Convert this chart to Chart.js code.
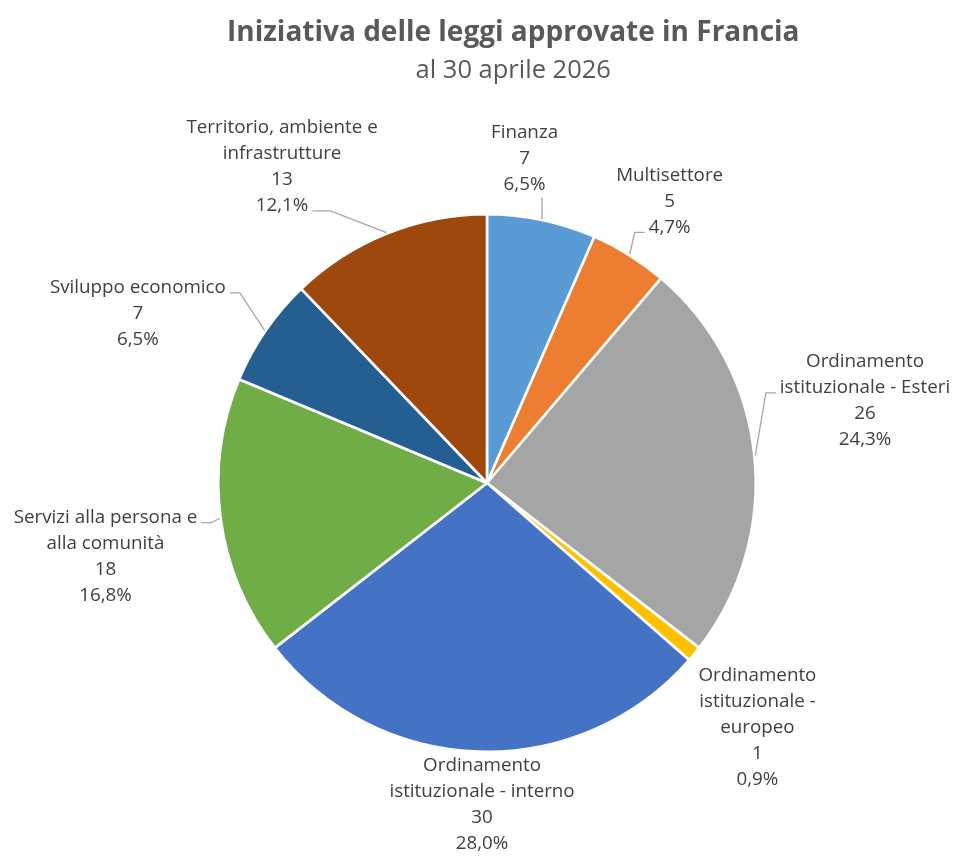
<!DOCTYPE html>
<html><head><meta charset="utf-8">
<script src="https://cdn.jsdelivr.net/npm/chart.js@4"></script>
<style>html,body{margin:0;padding:0;background:#fff}</style>
</head><body>
<canvas id="c" width="973" height="861"></canvas>
<script>
// ---- data ----
const categories = [
  'Finanza',
  'Multisettore',
  'Ordinamento istituzionale - Esteri',
  'Ordinamento istituzionale - europeo',
  'Ordinamento istituzionale - interno',
  'Servizi alla persona e alla comunità',
  'Sviluppo economico',
  'Territorio, ambiente e infrastrutture'
];
const labelLines = [
  ['Finanza'],
  ['Multisettore'],
  ['Ordinamento', 'istituzionale - Esteri'],
  ['Ordinamento', 'istituzionale -', 'europeo'],
  ['Ordinamento', 'istituzionale - interno'],
  ['Servizi alla persona e', 'alla comunità'],
  ['Sviluppo economico'],
  ['Territorio, ambiente e', 'infrastrutture']
];
const values = [7, 5, 26, 1, 30, 18, 7, 13];
const colors = ['#5B9BD5', '#ED7D31', '#A5A5A5', '#FFC000', '#4472C4', '#70AD47', '#255E91', '#9E480E'];
const titleText = 'Iniziativa delle leggi approvate in Francia';
const subtitleText = 'al 30 aprile 2026';

// ---- label layout (relative to each slice's geometry) ----
// angle shift (deg) from slice mid-angle, radial factor of outer radius
const labelShift = [-5.2, 0.9, -6.5, 2.5, -0.8, -3.2, -8.5, -11];
const labelDist  = [1.216, 1.248, 1.435, 1.35, 1.19, 1.44, 1.44, 1.40];
// leader: side ('left','right','bottom') and text line to attach to, stub length
const leaders = [
  {side: 'bottom'},
  {side: 'left', line: 2, stub: 10},
  {side: 'left', line: 1, stub: 10},
  null,
  null,
  {side: 'right', line: 0, stub: 10},
  {side: 'right', line: 0, stub: 10},
  {side: 'right', line: 3, stub: 18}
];

const FONT = '"Open Sans", "Noto Sans", sans-serif';
const LABEL_SIZE = 18.8;
const LINE_H = 26;

const total = values.reduce((a, b) => a + b, 0);
const pct = v => (v / total * 100).toFixed(1).replace('.', ',') + '%';

const labelPlugin = {
  id: 'outLabels',
  afterDatasetsDraw(chart) {
    const ctx = chart.ctx;
    const meta = chart.getDatasetMeta(0);
    ctx.save();
    // titles
    ctx.textAlign = 'center';
    ctx.textBaseline = 'middle';
    ctx.fillStyle = '#595959';
    const tx = chart.width * 0.5275;
    ctx.font = 'bold 28px ' + FONT;
    ctx.fillText(titleText, tx, 33);
    ctx.font = '25.5px ' + FONT;
    ctx.fillText(subtitleText, tx, 71);

    ctx.font = LABEL_SIZE + 'px ' + FONT;
    meta.data.forEach((arc, i) => {
      const {x, y, startAngle, endAngle, outerRadius} = arc.getProps(['x', 'y', 'startAngle', 'endAngle', 'outerRadius'], true);
      const R = outerRadius + 1;
      const mid = (startAngle + endAngle) / 2;
      const ex = x + Math.cos(mid) * R, ey = y + Math.sin(mid) * R;
      const la = mid + labelShift[i] * Math.PI / 180;
      const lx = x + Math.cos(la) * R * labelDist[i];
      const ly = y + Math.sin(la) * R * labelDist[i] + 1;
      const lines = labelLines[i].concat([String(values[i]), pct(values[i])]);
      const y0 = ly - (lines.length - 1) * LINE_H / 2;
      ctx.fillStyle = '#404040';
      lines.forEach((t, k) => ctx.fillText(t, lx, y0 + k * LINE_H));
      const ld = leaders[i];
      if (ld) {
        ctx.strokeStyle = '#A6A6A6';
        ctx.lineWidth = 1.3;
        ctx.beginPath();
        if (ld.side === 'bottom') {
          ctx.moveTo(ex, ey);
          ctx.lineTo(ex, y0 + (lines.length - 1) * LINE_H + 13);
        } else {
          const t = lines[ld.line];
          const w = ctx.measureText(t).width;
          const ay = y0 + ld.line * LINE_H + 5;
          let ax, bx;
          if (ld.side === 'right') { ax = lx + w / 2 + 4; bx = ax + ld.stub; }
          else { ax = lx - w / 2 - 4; bx = ax - ld.stub; }
          ctx.moveTo(ax, ay);
          ctx.lineTo(bx, ay);
          ctx.lineTo(ex, ey);
        }
        ctx.stroke();
      }
    });
    ctx.restore();
  }
};

new Chart(document.getElementById('c'), {
  type: 'pie',
  data: {
    labels: categories,
    datasets: [{
      data: values,
      backgroundColor: colors,
      borderColor: '#FFFFFF',
      borderWidth: 2.6,
      hoverOffset: 0
    }]
  },
  options: {
    responsive: false,
    animation: false,
    devicePixelRatio: 1,
    layout: {padding: {left: 217, right: 216, bottom: 108, top: 213}},
    plugins: {
      legend: {display: false},
      tooltip: {enabled: false},
      title: {display: false},
      subtitle: {display: false}
    }
  },
  plugins: [labelPlugin]
});
</script>
</body></html>
